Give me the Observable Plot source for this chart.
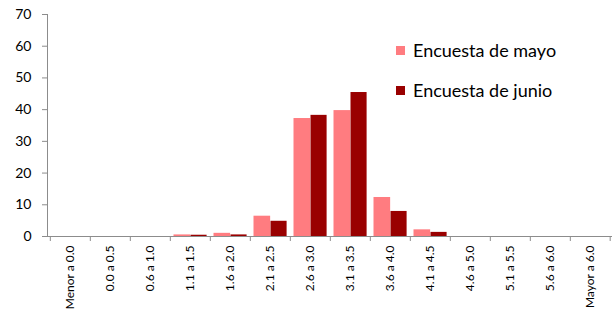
<!DOCTYPE html>
<html>
<head>
<meta charset="utf-8">
<script src="https://cdn.jsdelivr.net/npm/d3@7"></script>
<script src="https://cdn.jsdelivr.net/npm/@observablehq/plot@0.6"></script>
<style>
  body { margin: 0; background: #fff; }
  #wrap { position: relative; width: 612px; height: 314px; font-family: Lato, "Open Sans", sans-serif; }
  .leg { position: absolute; left: 396px; display: flex; align-items: center; font-size: 18px; color: #000; white-space: nowrap; }
  .sw { width: 9px; height: 9px; margin-right: 8px; }
</style>
</head>
<body>
<div id="wrap"></div>
<script>
const categories = ["Menor a 0.0","0.0 a 0.5","0.6 a 1.0","1.1 a 1.5","1.6 a 2.0","2.1 a 2.5","2.6 a 3.0","3.1 a 3.5","3.6 a 4.0","4.1 a 4.5","4.6 a 5.0","5.1 a 5.5","5.6 a 6.0","Mayor a 6.0"];
const mayo  = [0, 0, 0, 0.5, 1.0, 6.4, 37.2, 39.7, 12.3, 2.1, 0, 0, 0, 0];
const junio = [0, 0, 0, 0.4, 0.5, 4.8, 38.2, 45.4, 7.9, 1.3, 0, 0, 0, 0];
const yTicks = [0, 10, 20, 30, 40, 50, 60, 70];
const seriesNames = ["Encuesta de mayo", "Encuesta de junio"];
const colors = ["#FF7C80", "#990000"];

const data = categories.map((c, i) => ({cat: c, mayo: mayo[i], junio: junio[i]}));

const W = 612, H = 314, mL = 47, mR = 0, mT = 14, mB = 78;
const bw = (W - mL - mR) / categories.length;
const gray = "#8c8c8c";

const chart = Plot.plot({
  width: W, height: H,
  marginLeft: mL, marginRight: mR, marginTop: mT, marginBottom: mB,
  style: {fontFamily: "Lato, 'Open Sans', sans-serif", background: "#fff", overflow: "visible"},
  x: {domain: categories, padding: 0, label: null},
  y: {domain: [0, 70], label: null},
  marks: [
    Plot.barY(data, {x: "cat", y: "mayo", fill: colors[0], insetLeft: 3.5, insetRight: bw - 20.5}),
    Plot.barY(data, {x: "cat", y: "junio", fill: colors[1], insetLeft: 20.5, insetRight: 3.4}),
    Plot.axisY({ticks: yTicks, tickSize: 5, tickPadding: 11, stroke: gray, fill: "#000", fontSize: 14, label: null}),
    Plot.axisX({tickSize: 0, tickPadding: 9, tickRotate: -90, fontSize: 12, fill: "#000", label: null}),
    Plot.ruleX(categories, {x: d => d, y1: 0, y2: 0, dx: -bw / 2, insetBottom: -5, stroke: gray}),
    Plot.ruleX([categories[categories.length - 1]], {x: d => d, y1: 0, y2: 0, dx: bw / 2 - 0.5, insetBottom: -5, stroke: gray}),
    Plot.frame({anchor: "left", stroke: gray}),
    Plot.frame({anchor: "bottom", stroke: gray})
  ]
});

const wrap = document.getElementById("wrap");
wrap.appendChild(chart);
const legTops = [39, 79];
seriesNames.forEach((name, i) => {
  const d = document.createElement("div");
  d.className = "leg";
  d.style.top = legTops[i] + "px";
  d.innerHTML = `<div class="sw" style="background:${colors[i]}"></div><span>${name}</span>`;
  wrap.appendChild(d);
});
</script>
</body>
</html>
